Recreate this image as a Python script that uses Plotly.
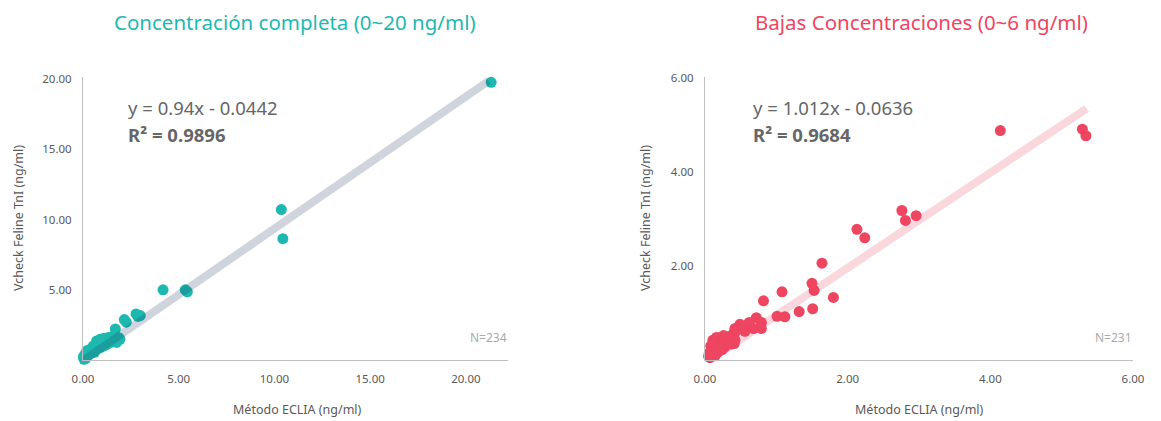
import plotly.graph_objects as go

# ---------------- data ----------------
full_x = [21.32, 10.36, 10.44, 4.18, 5.34, 5.45, 2.77, 2.99, 2.87, 2.16, 2.26, 1.69,
          1.93, 1.84, 1.87, 1.58, 1.24, 0.89, 0.71, 1.06, 1.41, 0.54, 0.37, 0.19, 0.10,
          0.02, 0.54, 0.89, 1.24, 1.67, 1.32, 1.10, 0.80, 0.60, 0.40, 0.25, 0.15, 0.05,
          0.70, 1.00, 1.50, 1.75, 1.60, 1.35, 0.95, 0.30, 0.45, 0.10, 0.20, 0.65, 1.15, 1.45]
full_y = [19.77, 10.71, 8.64, 5.00, 5.00, 4.86, 3.28, 3.16, 3.10, 2.88, 2.69, 2.21,
          1.47, 1.47, 1.59, 1.71, 1.47, 1.47, 1.36, 1.24, 1.24, 1.00, 0.76, 0.65, 0.40,
          0.22, 0.76, 0.88, 1.12, 1.36, 1.60, 1.55, 1.20, 0.55, 0.45, 0.30, 0.12, 0.05,
          0.75, 0.95, 1.30, 1.25, 1.45, 1.35, 1.30, 0.55, 0.60, 0.15, 0.40, 1.05, 1.05, 1.50]

low_x = [4.14, 5.29, 5.34, 2.76, 2.81, 2.96, 2.13, 2.24, 1.64, 1.50, 1.53, 1.80, 1.51, 1.32,
         1.08, 0.82, 1.01, 1.12, 0.72, 0.79, 0.79, 0.62, 0.68, 0.56, 0.49, 0.42, 0.41, 0.42,
         0.41, 0.44, 0.30, 0.21, 0.14, 0.12, 0.09, 0.26, 0.16, 0.12, 0.09, 0.14, 0.21, 0.30,
         0.37, 0.40, 0.34, 0.25, 0.18, 0.10, 0.07, 0.08, 0.20, 0.28, 0.33, 0.22, 0.15, 0.11,
         0.06, 0.05, 0.27, 0.35, 0.17, 0.24, 0.13]
low_y = [4.88, 4.91, 4.77, 3.18, 2.97, 3.07, 2.78, 2.60, 2.06, 1.63, 1.48, 1.33, 1.09, 1.03,
         1.45, 1.26, 0.93, 0.92, 0.90, 0.80, 0.67, 0.80, 0.67, 0.61, 0.76, 0.67, 0.59, 0.42,
         0.35, 0.62, 0.44, 0.48, 0.44, 0.27, 0.12, 0.52, 0.48, 0.37, 0.23, 0.09, 0.30, 0.37,
         0.34, 0.52, 0.47, 0.40, 0.35, 0.18, 0.05, 0.30, 0.20, 0.28, 0.50, 0.38, 0.25, 0.42,
         0.15, 0.08, 0.46, 0.36, 0.15, 0.22, 0.33]

full_fit_x = [0.0, 21.2]
full_slope, full_icpt = 0.94, -0.0442
low_fit_x = [0.05, 5.35]
low_slope, low_icpt = 1.012, -0.0636

full_xticks = [0, 5, 10, 15, 20]
full_yticks = [5, 10, 15, 20]
low_xticks = [0, 2, 4, 6]
low_yticks = [2, 4, 6]

titles = ["Concentración completa (0~20 ng/ml)", "Bajas Concentraciones (0~6 ng/ml)"]
x_title = "Método ECLIA (ng/ml)"
y_title = "Vcheck Feline TnI (ng/ml)"
eq_texts = ["y = 0.94x - 0.0442", "y = 1.012x - 0.0636"]
r2_texts = ["R² = 0.9896", "R² = 0.9684"]
n_texts = ["N=234", "N=231"]

TEAL = "#1DB9B1"
RED = "#EE4561"
FONT = "Noto Sans"
OFF = 8                      # default page body margin
W, H = 1161 - OFF, 421 - OFF  # figure fills the window from the body margin on


def fx(px):
    return (px - OFF) / W


def fy(py):
    return 1 - (py - OFF) / H


fig = go.Figure()

# right chart line (behind points)
fig.add_trace(go.Scatter(x=low_fit_x, y=[low_slope * v + low_icpt for v in low_fit_x],
                         mode="lines", line=dict(color="#FAD7DD", width=8),
                         xaxis="x2", yaxis="y2", hoverinfo="skip"))
fig.add_trace(go.Scatter(x=low_x, y=low_y, mode="markers",
                         marker=dict(color=RED, size=11, line=dict(width=0)),
                         xaxis="x2", yaxis="y2", cliponaxis=False))

# left chart points then translucent line on top
fig.add_trace(go.Scatter(x=full_x, y=full_y, mode="markers",
                         marker=dict(color=TEAL, size=11, line=dict(width=0)),
                         xaxis="x", yaxis="y", cliponaxis=False))
fig.add_trace(go.Scatter(x=full_fit_x, y=[full_slope * v + full_icpt for v in full_fit_x],
                         mode="lines", line=dict(color="rgba(20,45,85,0.2)", width=8),
                         xaxis="x", yaxis="y", hoverinfo="skip"))

ydom = [fy(360), fy(77)]
axis_common = dict(showgrid=False, zeroline=False, showline=True, linecolor="#BFBFBF",
                   linewidth=1, ticks="", automargin=False,
                   tickfont=dict(family=FONT, size=11.5, color="#595959"),
                   ticklabelstandoff=8)

fig.update_layout(
    template="none",
    width=W, height=H, margin=dict(l=0, r=0, t=0, b=0, pad=0, autoexpand=False),
    paper_bgcolor="white", plot_bgcolor="white", showlegend=False,
    xaxis=dict(domain=[fx(83), fx(508)], range=[0, 22.2], anchor="y",
               tickvals=full_xticks, ticktext=[f"{v:.2f}" for v in full_xticks], **axis_common),
    yaxis=dict(domain=ydom, range=[0, 20.15], anchor="x",
               tickvals=full_yticks, ticktext=[f"{v:.2f}" for v in full_yticks], **axis_common),
    xaxis2=dict(domain=[fx(705), fx(1133)], range=[0, 6], anchor="y2",
                tickvals=low_xticks, ticktext=[f"{v:.2f}" for v in low_xticks], **axis_common),
    yaxis2=dict(domain=ydom, range=[0, 6.02], anchor="x2",
                tickvals=low_yticks, ticktext=[f"{v:.2f}" for v in low_yticks], **axis_common),
)


def ann(text, px, py, size, color, xanchor="center", bold=False, angle=0):
    fig.add_annotation(text=f"<b>{text}</b>" if bold else text, x=fx(px), y=fy(py),
                       xref="paper", yref="paper", showarrow=False, xanchor=xanchor,
                       yanchor="middle", textangle=angle,
                       font=dict(family=FONT, size=size, color=color))


ann(titles[0], 295, 22, 20.5, TEAL)
ann(titles[1], 921, 22, 20.5, RED)
for cx in (297, 919):
    ann(x_title, cx, 409, 12.5, "#595959")
ann(y_title, 18, 218, 12.5, "#595959", angle=-90)
ann(y_title, 645, 218, 12.5, "#595959", angle=-90)
ann(eq_texts[0], 126, 108, 18.5, "#666666", xanchor="left")
ann(r2_texts[0], 126, 134, 18.5, "#666666", xanchor="left", bold=True)
ann(eq_texts[1], 751, 108, 18.5, "#666666", xanchor="left")
ann(r2_texts[1], 751, 134, 18.5, "#666666", xanchor="left", bold=True)
ann(n_texts[0], 509, 337, 12, "#AAAAAA", xanchor="right")
ann(n_texts[1], 1134, 337, 12, "#AAAAAA", xanchor="right")

fig.write_html("out.html")
